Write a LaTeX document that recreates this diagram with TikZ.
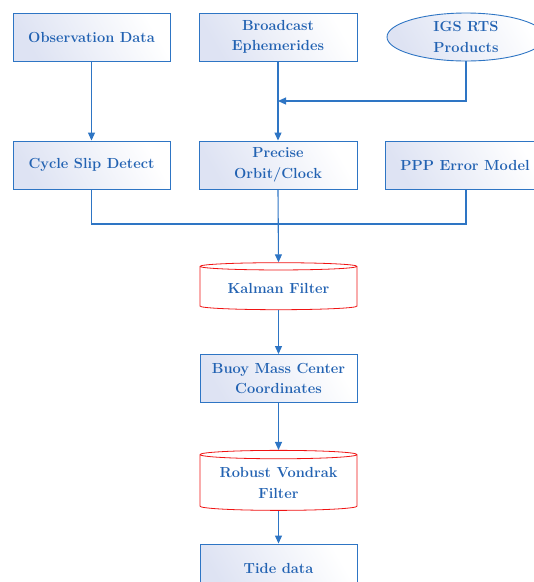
\documentclass[tikz,border=0pt]{standalone}
\usetikzlibrary{shapes.geometric, arrows.meta, calc}
\definecolor{flowblue}{RGB}{46,117,196}
\definecolor{textblue}{RGB}{34,98,178}
\definecolor{boxshade}{RGB}{222,227,243}
\definecolor{cylred}{RGB}{240,20,20}

\tikzset{
	procbox/.style={draw=flowblue, line width=0.9pt, rectangle, minimum width=157pt, minimum height=48pt,
		left color=boxshade, right color=white, shading angle=120, align=center, inner sep=1pt,
		text=textblue, font=\fontsize{14.6}{20.5}\selectfont\bfseries},
	srcoval/.style={procbox, ellipse, inner sep=0pt},
	filtercyl/.style={draw=cylred, line width=0.8pt, fill=white, cylinder, shape border rotate=90,
		aspect=0.07, minimum width=157pt, align=center, text=textblue, inner sep=1pt,
		font=\fontsize{14.6}{20.5}\selectfont\bfseries},
	flow/.style={draw=flowblue, line width=1.1pt},
	flowarrow/.style={flow, -{Triangle[length=8pt,width=7pt]}}
}

\begin{document}
\begin{tikzpicture}[x=1pt, y=-1pt]
	\useasboundingbox (0,0) rectangle (534,582);
	\clip (0,0) rectangle (534,582);
	% inputs
	\node[procbox] (obs) at (91.5,37) {Observation Data};
	\node[procbox, minimum width=158pt] (bcast) at (278,37) {Broadcast\\Ephemerides};
	\node[srcoval, minimum width=158pt, minimum height=48pt] (igs) at (466,37) {IGS RTS\\Products};
	% second row
	\node[procbox] (cycle) at (91.5,165) {Cycle Slip Detect};
	\node[procbox, minimum width=158pt] (orbit) at (278,165) {Precise\\Orbit/Clock};
	\node[procbox, minimum width=160pt] (ppp) at (465,165) {PPP Error Model};
	% processing chain
	\node[filtercyl, minimum height=47pt] (kalman) at (278.5,288.5) {Kalman Filter};
	\node[procbox] (buoy) at (278.5,378.5) {Buoy Mass Center\\Coordinates};
	\node[filtercyl, minimum height=60pt] (robust) at (278.5,483) {Robust Vondrak\\Filter};
	\node[procbox] (tide) at (278.5,568) {Tide data};
	% connectors
	\coordinate (igsjoin) at ($(bcast.south)!0.5!(orbit.north)$);
	\coordinate (sumjoin) at (278,224);
	\draw[flowarrow] (obs) -- (cycle);
	\draw[flowarrow] (bcast) -- (orbit);
	\draw[flowarrow] (igs.south) |- (igsjoin);
	\draw[flow] (cycle.south) |- (sumjoin);
	\draw[flow] (ppp.south -| igs.south) |- (sumjoin);
	\draw[flowarrow] (orbit.south) -- (kalman.north);
	\draw[flowarrow] (kalman.south) -- (buoy.north);
	\draw[flowarrow] (buoy.south) -- (robust.north);
	\draw[flowarrow] (robust.south) -- (tide.north);
\end{tikzpicture}
\end{document}
